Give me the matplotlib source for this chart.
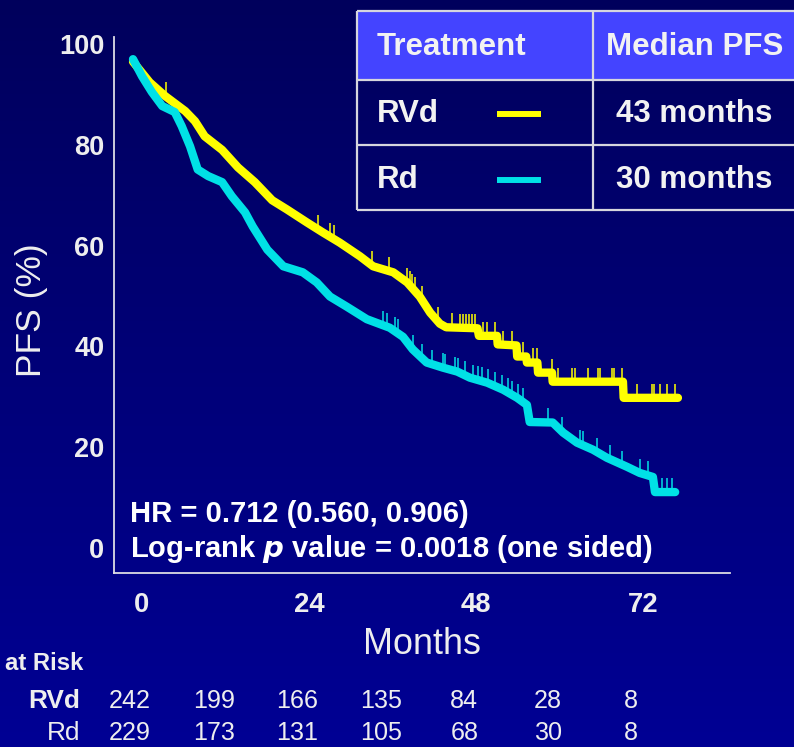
import numpy as np
import matplotlib
matplotlib.use("Agg")
import matplotlib.pyplot as plt
from matplotlib import font_manager
from matplotlib.patches import Rectangle
from matplotlib.transforms import ScaledTranslation, blended_transform_factory


def has_font(name):
    try:
        font_manager.findfont(font_manager.FontProperties(family=name), fallback_to_default=False)
        return True
    except ValueError:
        return False


MAIN = "Liberation Sans" if has_font("Liberation Sans") else "DejaVu Sans"
NARROW = "Liberation Sans Narrow" if has_font("Liberation Sans Narrow") else MAIN
NS = 1.0 if NARROW != MAIN else 0.86  # shrink when no condensed face exists

plt.rcParams["font.family"] = [MAIN, "DejaVu Sans"]

# ---- Kaplan-Meier curves (months, PFS %) ----
rvd_t = [0, 2.4, 4.6, 7.5, 8.9, 10.3, 12.8, 15.1, 17.5, 20.0, 22.1, 25.0, 27.3, 29.7,
         32.6, 34.5, 37.4, 39.4, 41.2, 42.7, 44.1, 45.0, 49.5, 49.7, 52.3, 52.4, 55.1,
         55.2, 56.5, 56.6, 58.1, 58.2, 60.2, 60.3, 70.4, 70.5, 78.3]
rvd_pfs = [96.5, 92.4, 89.7, 86.7, 84.7, 81.7, 79.0, 75.5, 72.6, 69.0, 67.2, 64.6, 62.6, 60.6,
           57.9, 55.9, 54.7, 52.7, 49.9, 46.7, 44.5, 43.8, 43.6, 42.1, 42.1, 40.4, 40.2,
           38.0, 38.0, 36.8, 36.8, 34.8, 34.8, 33.0, 33.0, 29.8, 29.8]

rd_t = [0, 1.3, 2.7, 4.2, 6.0, 7.0, 8.2, 9.3, 10.8, 12.8, 14.2, 16.1, 17.2, 19.3, 21.6,
        24.4, 26.4, 28.3, 30.7, 33.6, 36.9, 38.8, 40.2, 42.2, 44.5, 46.6, 48.4, 50.9,
        53.2, 55.2, 56.6, 57.0, 60.3, 61.8, 63.8, 66.1, 68.1, 71.0, 72.8, 74.7, 75.0, 77.9]
rd_pfs = [97.0, 93.6, 90.5, 87.7, 86.5, 83.7, 79.7, 75.1, 73.8, 72.6, 69.8, 66.6, 63.8, 59.2,
          55.9, 54.7, 52.7, 49.9, 47.9, 45.4, 43.7, 41.9, 39.4, 36.8, 35.8, 35.0, 33.8, 32.8,
          31.4, 29.8, 28.4, 25.0, 24.9, 22.9, 20.9, 19.5, 17.9, 16.1, 14.9, 14.1, 11.1, 11.1]

# censored observations (months)
rvd_cens = [4.7, 26.6, 28.3, 28.9, 34.3, 36.8, 39.4, 39.8, 40.1, 40.5, 41.5, 43.8, 45.8,
            47.0, 47.4, 47.8, 48.3, 48.7, 49.1, 50.3, 50.9, 52.0, 53.2, 54.5, 56.0, 57.5,
            58.0, 60.2, 61.1, 63.1, 63.5, 65.4, 66.8, 67.1, 68.8, 69.1, 70.3, 72.4, 74.6,
            74.9, 75.7, 76.7, 77.9]
rd_cens = [35.9, 36.5, 37.6, 38.1, 40.2, 41.5, 43.0, 44.5, 44.8, 46.3, 46.7, 47.7, 48.9,
           49.6, 50.1, 51.0, 52.0, 53.0, 53.9, 54.5, 55.3, 56.0, 59.6, 61.6, 64.2, 64.7,
           66.7, 68.5, 70.3, 72.8, 74.0, 76.0, 76.7, 77.4]

x_ticks = [0, 24, 48, 72]
y_ticks = [0, 20, 40, 60, 80, 100]

risk_months = [0, 12, 24, 36, 48, 60, 72]
risk_rvd = [242, 199, 166, 135, 84, 28, 8]
risk_rd = [229, 173, 131, 105, 68, 30, 8]

arms = ["RVd", "Rd"]
medians = ["43 months", "30 months"]
arm_colors = ["#FFFF00", "#00E1E6"]

W, H = 794, 747
fig = plt.figure(figsize=(W / 100, H / 100), dpi=100)

# navy gradient background
bg = fig.add_axes([0, 0, 1, 1], zorder=-10)
grad = np.linspace(0, 1, 256).reshape(-1, 1)
bg.imshow(grad, aspect="auto", extent=[0, 1, 0, 1], origin="upper",
          cmap=matplotlib.colors.LinearSegmentedColormap.from_list("bg", ["#00005C", "#000094"]))
bg.set_axis_off()

ax = fig.add_axes([114 / W, 1 - 573 / H, (730 - 114) / W, (573 - 37) / H])
ax.set_facecolor("none")
ax.set_xlim(-2.73, 85.78)
ax.set_ylim(-4.96, 101.4)

ax.plot(rvd_t, rvd_pfs, color=arm_colors[0], lw=6.0, solid_capstyle="round",
        solid_joinstyle="round", zorder=3)
ax.plot(rd_t, rd_pfs, color=arm_colors[1], lw=6.0, solid_capstyle="round",
        solid_joinstyle="round", zorder=4)

for t, s, cens, c, z in [(rvd_t, rvd_pfs, rvd_cens, arm_colors[0], 3),
                         (rd_t, rd_pfs, rd_cens, arm_colors[1], 4)]:
    yc = np.interp(cens, t, s)
    ax.vlines(cens, yc, yc + 2.8, color=c, lw=1.1, zorder=z)

for side in ["top", "right"]:
    ax.spines[side].set_visible(False)
for side in ["left", "bottom"]:
    ax.spines[side].set_color("#DCDCE4")
    ax.spines[side].set_linewidth(1.3)

ax.set_xticks(x_ticks)
ax.set_xticklabels([str(v) for v in x_ticks])
ax.set_yticks(y_ticks)
ax.set_yticklabels([str(v) for v in y_ticks])
ax.tick_params(axis="both", length=0, colors="#EEEEEE")
ax.tick_params(axis="y", pad=7)
ax.tick_params(axis="x", pad=14)
for lab in ax.get_yticklabels():
    lab.set_fontsize(19.5)
    lab.set_fontweight("bold")
for lab in ax.get_xticklabels():
    lab.set_family(NARROW)
    lab.set_fontsize(23 * NS)
    lab.set_fontweight("bold")
    lab.set_transform(lab.get_transform() + ScaledTranslation(9 / 100, 0, fig.dpi_scale_trans))

# overlay in pixel coordinates for table and annotations
ov = fig.add_axes([0, 0, 1, 1], zorder=5)
ov.set_xlim(0, W)
ov.set_ylim(H, 0)
ov.set_axis_off()
ov.patch.set_alpha(0)

fig.text(32 / W, 1 - 310 / H, "PFS (%)", rotation=90, ha="center", va="center",
         fontsize=25.5, color="#EEEEEE")
ov.text(422, 644, "Months", ha="center", va="center", family=NARROW,
        fontsize=30 * NS, color="#EEEEEE")

ov.text(130, 514, "HR = 0.712 (0.560, 0.906)", ha="left", va="center",
        fontsize=21, fontweight="bold", color="white")
ov.text(130, 549, r"Log-rank $\mathbfit{p}$ value = 0.0018 (one sided)", ha="left", va="center",
        fontsize=21, fontweight="bold", color="white")

# number at risk
risk_tr = blended_transform_factory(ax.transData, ov.transData)
ov.text(83, 663, "at Risk", ha="right", va="center", family=NARROW,
        fontsize=20 * NS, fontweight="bold", color="#EEEEEE")
ov.text(80, 701, "RVd", ha="right", va="center", family=NARROW,
        fontsize=22 * NS, fontweight="bold", color="#EEEEEE")
ov.text(80, 733, "Rd", ha="right", va="center", family=NARROW,
        fontsize=22 * NS, color="#EEEEEE")
for m, a, b in zip(risk_months, risk_rvd, risk_rd):
    ov.text(m - 0.4, 701, str(a), transform=risk_tr, ha="center", va="center",
            family=NARROW, fontsize=21 * NS, color="#EEEEEE")
    ov.text(m - 0.4, 733, str(b), transform=risk_tr, ha="center", va="center",
            family=NARROW, fontsize=21 * NS, color="#EEEEEE")

# median PFS table
edge = "#D6D6DE"
ov.add_patch(Rectangle((357, 11), 460, 69, facecolor="#4444FF", edgecolor="none"))
for y in [11, 80, 145, 210]:
    ov.plot([357, W + 5], [y, y], color=edge, lw=1.6, solid_capstyle="butt")
for x in [357, 593]:
    ov.plot([x, x], [11, 210], color=edge, lw=1.6, solid_capstyle="butt")

ov.text(377, 47, "Treatment", ha="left", va="center", fontsize=22.5,
        fontweight="bold", color="#F2F2F2")
ov.text(606, 47, "Median PFS", ha="left", va="center", fontsize=22.5,
        fontweight="bold", color="#F2F2F2")
for y, arm, med, c in zip([114, 180], arms, medians, arm_colors):
    ov.text(377, y, arm, ha="left", va="center", fontsize=22.5,
            fontweight="bold", color="#F2F2F2")
    ov.plot([497, 541], [y, y], color=c, lw=4.3, solid_capstyle="butt")
    ov.text(616, y, med, ha="left", va="center", fontsize=22.5,
            fontweight="bold", color="#F2F2F2")

fig.savefig("out.png", dpi=100)
